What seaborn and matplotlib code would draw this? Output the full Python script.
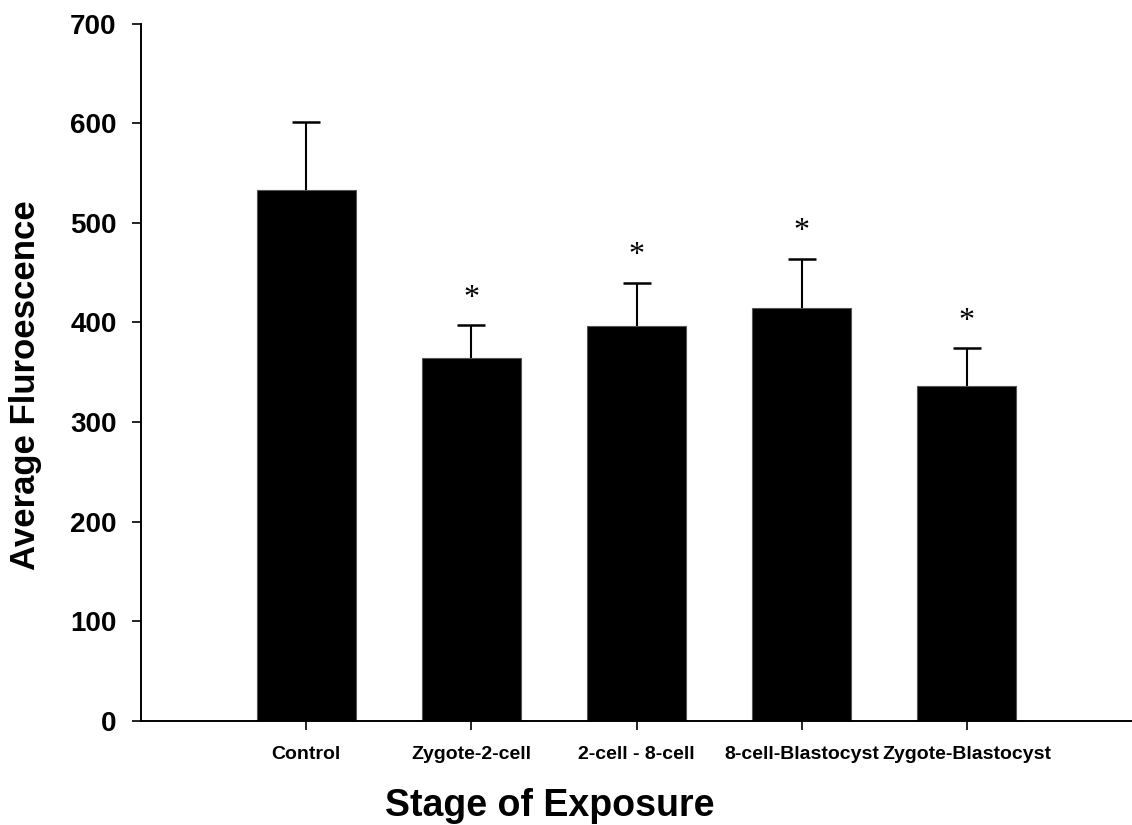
import matplotlib
matplotlib.use("Agg")
import matplotlib.pyplot as plt
import seaborn as sns
import pandas as pd

# Fluorescence by stage of exposure
stages = ["Control", "Zygote-2-cell", "2-cell - 8-cell", "8-cell-Blastocyst", "Zygote-Blastocyst"]
mean_fluor = [533, 364, 396, 414, 336]
sem_fluor = [68, 33, 44, 50, 38]
significant = [False, True, True, True, True]

df = pd.DataFrame({"stage": stages, "fluor": mean_fluor})

sns.set_style("ticks")
plt.rcParams["font.family"] = ["Liberation Sans", "DejaVu Sans"]
plt.rcParams["font.weight"] = "bold"
plt.rcParams["text.color"] = "black"
plt.rcParams["axes.labelcolor"] = "black"
plt.rcParams["xtick.color"] = "black"
plt.rcParams["ytick.color"] = "black"

fig = plt.figure(figsize=(11.32, 8.25), dpi=100)
ax = fig.add_axes([141 / 1132, 1 - 720.7 / 825, 1 - 141 / 1132, (720.7 - 23.7) / 825])

sns.barplot(data=df, x="stage", y="fluor", order=stages, color="black",
            width=0.6, edgecolor="#555555", linewidth=0.8, saturation=1,
            errorbar=None, ax=ax)

# one-sided (upper) error bars
eb = ax.errorbar(range(len(stages)), mean_fluor, yerr=[[0] * len(stages), sem_fluor],
                 fmt="none", ecolor="black", elinewidth=1.5, capsize=10, capthick=1.8,
                 zorder=3)
# drop the cap sitting on the bar top, keep only the upper one
for cap in eb[1]:
    if list(cap.get_ydata()) == list(mean_fluor):
        cap.remove()

for i, (m, s, sig) in enumerate(zip(mean_fluor, sem_fluor, significant)):
    if sig:
        ax.text(i, m + s + 27, "*", ha="center", va="center", fontsize=23,
                family=["Liberation Serif"], fontweight="normal", color="black")

ax.set_xlim(-1, 5)
ax.set_ylim(0, 700)
ax.set_yticks(range(0, 701, 100))

sns.despine(ax=ax)
for side in ("left", "bottom"):
    ax.spines[side].set_linewidth(1.4)
    ax.spines[side].set_color("black")

ax.tick_params(axis="y", length=6.5, width=1.2, pad=11, labelsize=20, colors="black")
ax.tick_params(axis="x", length=6.5, width=1.2, pad=12, labelsize=14, colors="black")
for lab in ax.get_xticklabels() + ax.get_yticklabels():
    lab.set_fontweight("bold")

ax.set_xlabel("Stage of Exposure", fontsize=27, fontweight="bold")
ax.set_ylabel("Average Fluroescence", fontsize=25, fontweight="bold")
ax.xaxis.set_label_coords((550 - 141) / 991, -(806 - 720.7) / 697)
ax.yaxis.set_label_coords(-(141 - 26) / 991, (720.7 - 385.5) / 697)
ax.xaxis.label.set_va("center")
ax.yaxis.label.set_va("center")

fig.savefig("out.png", dpi=100)
